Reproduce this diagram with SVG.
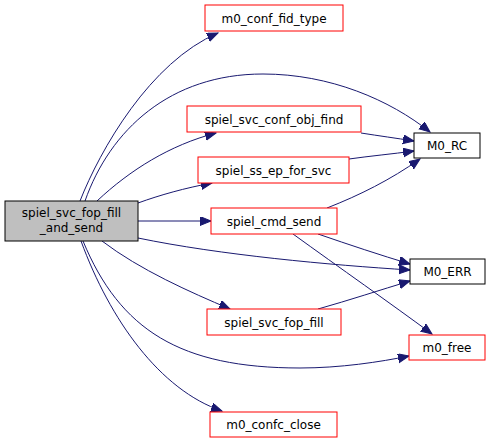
<svg xmlns="http://www.w3.org/2000/svg" width="491" height="443" viewBox="0 0 491 443">
<style>
.n rect{fill:#fff;stroke:#ff0000;stroke-width:1}
.n.k rect{stroke:#000}
.n.m rect{fill:#bfbfbf;stroke:#000}
text{font-family:"DejaVu Sans",sans-serif;font-size:12px;text-anchor:middle;fill:#000}
.e path{fill:none;stroke:#191970;stroke-width:1;marker-end:url(#a)}
</style>
<defs>
<marker id="a" markerUnits="userSpaceOnUse" markerWidth="14" markerHeight="12" refX="11" refY="4.5" orient="auto">
<polygon points="0,0 11,4.5 0,9" fill="#191970" stroke="#191970"/>
</marker>
</defs>
<rect width="491" height="443" fill="#fff"/>
<g class="e">
<path d="M80,201 C100,150 150,62 218,33"/>
<path d="M85,201 C110,130 170,74 263,74 C330,74 390,100 430,132"/>
<path d="M97,201 C130,170 170,145 216,133"/>
<path d="M138,203 C160,195 185,188 212,183"/>
<path d="M138,221 L211,221"/>
<path d="M138,238 C220,255 330,265 410,270"/>
<path d="M102,241 C140,270 190,292 230,309"/>
<path d="M83,241 C120,330 180,368 300,368 C340,368 380,362 409,356"/>
<path d="M81,241 C110,320 160,390 222,411"/>
<path d="M361,133 C380,136 395,138 414,141"/>
<path d="M349,159 C370,156 392,154 414,151"/>
<path d="M327,208 C360,195 390,180 420,159"/>
<path d="M318,234 C350,245 380,255 410,264"/>
<path d="M293,234 C340,268 390,303 432,334"/>
<path d="M318,309 C350,300 380,290 410,281"/>
</g>
<g id="main" class="n m"><rect x="5" y="201" width="133" height="40"/><text x="71.5" y="217">spiel_svc_fop_fill</text><text x="71.5" y="232">_and_send</text></g>
<g id="fidtype" class="n"><rect x="205" y="5" width="138" height="26"/><text x="274" y="22.5">m0_conf_fid_type</text></g>
<g id="objfind" class="n"><rect x="187" y="106" width="174" height="26"/><text x="274" y="123.5">spiel_svc_conf_obj_find</text></g>
<g id="epforsvc" class="n"><rect x="198" y="157" width="151" height="26"/><text x="273.5" y="174.5">spiel_ss_ep_for_svc</text></g>
<g id="cmdsend" class="n"><rect x="211" y="208" width="126" height="26"/><text x="274" y="225.5">spiel_cmd_send</text></g>
<g id="fopfill" class="n"><rect x="207" y="309" width="134" height="26"/><text x="274" y="326.5">spiel_svc_fop_fill</text></g>
<g id="confcclose" class="n"><rect x="210" y="412" width="127" height="25"/><text x="273.5" y="429">m0_confc_close</text></g>
<g id="rc" class="n k"><rect x="414" y="133" width="66" height="25"/><text x="447" y="150">M0_RC</text></g>
<g id="err" class="n k"><rect x="410" y="259" width="75" height="25"/><text x="447.5" y="276">M0_ERR</text></g>
<g id="free" class="n"><rect x="409" y="335" width="76" height="25"/><text x="447" y="352">m0_free</text></g>
</svg>
